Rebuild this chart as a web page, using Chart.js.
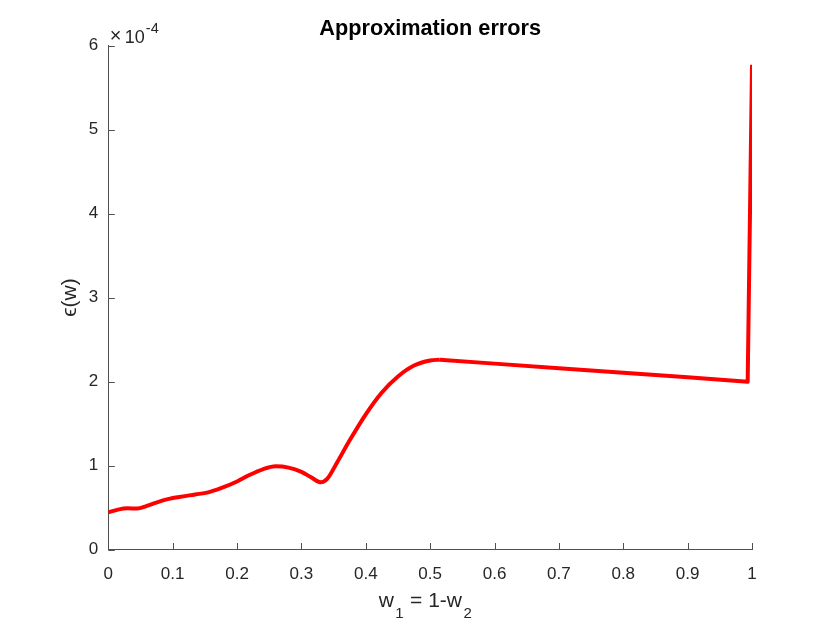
<!DOCTYPE html>
<html>
<head>
<meta charset="utf-8">
<script src="https://cdn.jsdelivr.net/npm/chart.js@4/dist/chart.umd.min.js"></script>
<style>
  html, body { margin: 0; padding: 0; background: #ffffff; }
  #wrap { width: 830px; height: 623px; }
</style>
</head>
<body>
<div id="wrap"><canvas id="c" width="830" height="623"></canvas></div>
<script>
// ---- data (epsilon values in units of 1e-4) ----
const wValues = [0, 0.015, 0.03, 0.045, 0.06, 0.085, 0.11, 0.135, 0.155, 0.175,
  0.2, 0.22, 0.24, 0.26, 0.28, 0.3, 0.315, 0.33, 0.34, 0.355,
  0.375, 0.4, 0.425, 0.45, 0.475, 0.5, 0.515, 0.6, 0.7, 0.8, 0.9, 0.9933, 1.0];
const epsValues = [0.443, 0.475, 0.49, 0.488, 0.52, 0.585, 0.625, 0.655, 0.68, 0.73,
  0.81, 0.89, 0.955, 0.99, 0.975, 0.925, 0.86, 0.80, 0.84, 1.03,
  1.30, 1.61, 1.87, 2.06, 2.19, 2.25, 2.26, 2.213, 2.159, 2.105, 2.051, 1.997, 5.77];
// the curve is smooth up to this w, and piecewise straight after it
const smoothUntil = 0.515;
const xTickValues = [0, 0.1, 0.2, 0.3, 0.4, 0.5, 0.6, 0.7, 0.8, 0.9, 1];
const yTickValues = [0, 1, 2, 3, 4, 5, 6];
const titleText = 'Approximation errors';
const yLabelText = 'ϵ(w)';
const xLabelParts = [['w', false], ['1', true], [' = 1-w', false], ['2', true]];
const exponentTimes = '×';
const exponentBase = '10';
const exponentPower = '-4';

const AXIS_COLOR = '#505050';
const TEXT_COLOR = '#262626';
const FONT = '"Liberation Sans", Arial, Helvetica, sans-serif';

const allPoints = wValues.map((w, i) => ({ x: w, y: epsValues[i] }));
const smoothPoints = allPoints.filter(p => p.x <= smoothUntil);
const straightPoints = allPoints.filter(p => p.x >= smoothUntil);

const decorPlugin = {
  id: 'decor',
  afterDraw(chart) {
    const ctx = chart.ctx;
    const xs = chart.scales.x, ys = chart.scales.y;
    const ca = chart.chartArea;
    ctx.save();
    // inward tick marks
    ctx.strokeStyle = AXIS_COLOR;
    ctx.lineWidth = 1;
    const tl = 6.5;
    ctx.beginPath();
    xTickValues.forEach(v => {
      const px = Math.round(xs.getPixelForValue(v)) + 0.5;
      ctx.moveTo(px, ca.bottom);
      ctx.lineTo(px, ca.bottom - tl);
    });
    yTickValues.forEach(v => {
      const py = Math.round(ys.getPixelForValue(v)) + 0.5;
      ctx.moveTo(ca.left, py);
      ctx.lineTo(ca.left + tl, py);
    });
    ctx.stroke();

    // exponent label  ×10^-4
    ctx.fillStyle = TEXT_COLOR;
    ctx.textBaseline = 'alphabetic';
    ctx.textAlign = 'left';
    const ey = ca.top - 2.5;
    ctx.font = '20px ' + FONT;
    ctx.fillText(exponentTimes, ca.left + 1.5, ey - 1);
    ctx.font = '18px ' + FONT;
    ctx.fillText(exponentBase, ca.left + 16.5, ey);
    const wb = ctx.measureText(exponentBase).width;
    ctx.font = '14.5px ' + FONT;
    ctx.fillText(exponentPower, ca.left + 16.5 + wb + 1, ey - 10.5);

    // x label with subscripts
    const mainF = '21px ' + FONT, subF = '15px ' + FONT;
    let total = 0;
    xLabelParts.forEach(([t, sub]) => {
      ctx.font = sub ? subF : mainF;
      total += ctx.measureText(t).width + (sub ? 2 : 0);
    });
    let x = 425.5 - total / 2;
    const base = 607;
    xLabelParts.forEach(([t, sub]) => {
      ctx.font = sub ? subF : mainF;
      if (sub) x += 1.5;
      ctx.fillText(t, x, sub ? base + 10.5 : base);
      x += ctx.measureText(t).width + (sub ? 0.5 : 0);
    });
    ctx.restore();
  }
};

const lineStyle = {
  borderColor: '#ff0000',
  backgroundColor: '#ff0000',
  borderWidth: 4,
  pointRadius: 0,
  fill: false,
  borderCapStyle: 'butt',
  borderJoinStyle: 'round'
};

new Chart(document.getElementById('c'), {
  type: 'line',
  data: {
    datasets: [
      Object.assign({ data: smoothPoints, cubicInterpolationMode: 'monotone' }, lineStyle),
      Object.assign({ data: straightPoints, tension: 0 }, lineStyle)
    ]
  },
  options: {
    responsive: false,
    animation: false,
    events: [],
    layout: { padding: { left: 0, right: 78, top: 0, bottom: 0 } },
    plugins: {
      legend: { display: false },
      tooltip: { enabled: false },
      title: {
        display: true,
        fullSize: false,
        text: titleText,
        color: '#000000',
        font: { family: FONT, size: 21.7, weight: 'bold' },
        padding: { top: 16, bottom: 3.5 }
      }
    },
    scales: {
      x: {
        type: 'linear',
        min: 0, max: 1,
        afterBuildTicks: s => { s.ticks = xTickValues.map(v => ({ value: v })); },
        afterFit: s => { s.height = 73.5; },
        grid: { display: true, drawOnChartArea: false, drawTicks: false },
        border: { display: true, color: AXIS_COLOR, width: 1 },
        ticks: {
          color: TEXT_COLOR,
          font: { family: FONT, size: 17 },
          padding: 15,
          maxRotation: 0,
          autoSkip: false,
          callback: v => String(v)
        }
      },
      y: {
        type: 'linear',
        min: 0, max: 6,
        afterBuildTicks: s => { s.ticks = yTickValues.map(v => ({ value: v })); },
        afterFit: s => { s.width = 108.3; },
        grid: { display: true, drawOnChartArea: false, drawTicks: false },
        border: { display: true, color: AXIS_COLOR, width: 1 },
        title: {
          display: true,
          text: yLabelText,
          color: TEXT_COLOR,
          font: { family: FONT, size: 21 },
          padding: { top: 58, bottom: 0 }
        },
        ticks: {
          color: TEXT_COLOR,
          font: { family: FONT, size: 17 },
          padding: 10,
          autoSkip: false,
          callback: v => String(v)
        }
      }
    }
  },
  plugins: [decorPlugin]
});
</script>
</body>
</html>
